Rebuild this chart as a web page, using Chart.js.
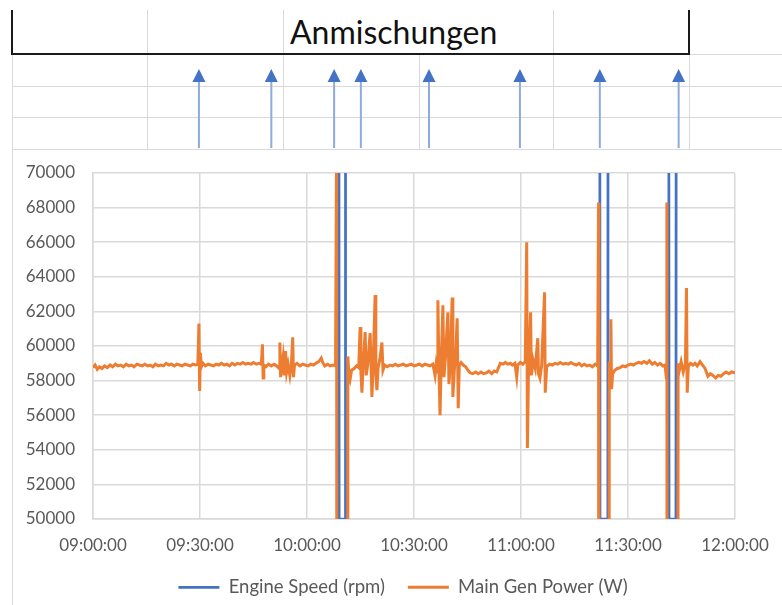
<!DOCTYPE html>
<html>
<head>
<meta charset="utf-8">
<script src="https://cdn.jsdelivr.net/npm/chart.js@4.4.0/dist/chart.umd.min.js"></script>
<style>
  body { margin: 0; background: #fff; }
  #page { position: relative; width: 782px; height: 605px; overflow: hidden; background: #fff; font-family: Lato, "Open Sans", sans-serif; }
  .ln { position: absolute; background: #d9d9d9; }
  .bk { position: absolute; background: #1a1a1a; }
  #head { position: absolute; left: 290px; top: 14px; font-size: 32px; line-height: 36px; color: #111; }
  #chart { position: absolute; left: 0; top: 0; }
</style>
</head>
<body>
<div id="page">
  <!-- spreadsheet cells above the chart -->
  <div class="ln" style="left:147px;top:10px;width:1px;height:139px"></div>
  <div class="ln" style="left:283px;top:10px;width:1px;height:139px"></div>
  <div class="ln" style="left:419px;top:55px;width:1px;height:94px"></div>
  <div class="ln" style="left:553px;top:10px;width:1px;height:139px"></div>
  <div class="ln" style="left:689px;top:55px;width:1px;height:94px"></div>
  <div class="ln" style="left:12px;top:55px;width:1px;height:550px"></div>
  <div class="ln" style="left:690px;top:54px;width:92px;height:1px"></div>
  <div class="ln" style="left:12px;top:86px;width:770px;height:1px"></div>
  <div class="ln" style="left:12px;top:117px;width:770px;height:1px"></div>
  <div class="ln" style="left:12px;top:149px;width:770px;height:1px"></div>
  <div class="bk" style="left:12px;top:53px;width:678px;height:2px"></div>
  <div class="bk" style="left:11px;top:10px;width:2px;height:45px"></div>
  <div class="bk" style="left:688px;top:10px;width:2px;height:45px"></div>
  <div id="head">Anmischungen</div>
  <canvas id="chart" width="782" height="605"></canvas>
</div>
<script>
// minutes after 09:00
var timeLabels = ["09:00:00", "09:30:00", "10:00:00", "10:30:00", "11:00:00", "11:30:00", "12:00:00"];
var mixTimes = [29.7, 50.0, 67.6, 75.1, 94.2, 119.7, 142.1, 164.2];

// Engine Speed (rpm), [minute, value]
var engineSpeed = [
  [0, 75000], [68.95, 75000], [69.0, 50000], [70.75, 50000], [70.8, 75000],
  [142.1, 75000], [142.15, 50000], [144.35, 50000], [144.4, 75000],
  [161.45, 75000], [161.5, 50000], [163.45, 50000], [163.5, 75000], [180, 75000]
];

// Main Gen Power (W), [minute, value]
var mainGenPower = [
  [0, 58750], [0.6, 58900], [1.2, 58650], [1.8, 58800], [2.5, 58700], [3.2, 58850], [4, 58750], [4.8, 58900],
  [5.5, 58800], [6.3, 58950], [7, 58850], [7.8, 58900], [8.5, 58800], [9.3, 58950], [10, 58850], [10.8, 58900],
  [11.5, 58800], [12.3, 58950], [13, 58900], [13.8, 58850], [14.5, 58950], [15.3, 58850], [16, 58900], [16.8, 58800],
  [17.5, 58950], [18.3, 58850], [19, 58900], [19.8, 58850], [20.5, 59000], [21.3, 58900], [22, 58950], [22.8, 58850],
  [23.5, 58950], [24.3, 58900], [25, 58850], [25.8, 58950], [26.5, 58900], [27.3, 58850], [28, 58950], [28.8, 58900],
  [29.4, 58950], [29.7, 61300], [29.9, 57400], [30.1, 59600], [30.4, 58800], [30.8, 59000], [31.5, 58850],
  [32.3, 58950], [33, 58900], [33.8, 58850], [34.5, 58950], [35.3, 58900], [36, 59000], [36.8, 58900], [37.5, 58950],
  [38.3, 58850], [39, 59000], [39.8, 58900], [40.5, 59000], [41.3, 58950], [42, 59050], [42.8, 58950], [43.5, 59000],
  [44.3, 58950], [45, 59050], [45.8, 58950], [46.5, 59000], [47.2, 58950],
  [47.5, 60100], [47.7, 58150], [47.9, 58900], [48.5, 58800], [49.2, 58950], [50, 58850], [50.8, 58950], [51.5, 58850],
  [52.2, 58700], [52.4, 60200], [52.6, 58200], [52.9, 58850], [53.3, 59400], [53.6, 58300], [54.0, 59700], [54.3, 58500],
  [54.7, 58950], [55.2, 58300], [55.6, 58900], [56.0, 60500], [56.2, 58200], [56.5, 58900], [57.2, 59000], [58, 58850],
  [58.8, 58950], [59.5, 58900], [60.3, 58850], [61, 58950], [61.8, 58900], [62.5, 59000], [63.3, 59100], [64, 59300],
  [64.4, 59050], [65, 58850], [65.8, 58950], [66.5, 58850], [67.3, 58900], [68.0, 58850],
  [68.3, 72000], [68.45, 0], [71.3, 0], [71.45, 59400], [71.7, 58500], [72.1, 58100], [72.5, 58600], [73.2, 58700],
  [73.9, 58850], [74.5, 58750], [74.9, 61100], [75.1, 58600], [75.4, 57300], [75.7, 58700], [76.3, 60800], [76.6, 58300],
  [77.0, 58900], [77.7, 60750], [78.0, 58600], [78.2, 57050], [78.5, 58600], [79.1, 62950], [79.3, 58400], [79.6, 57450],
  [79.9, 58700], [80.4, 59200], [81.0, 60200], [81.3, 58600], [81.8, 58900], [82.5, 58800], [83.3, 58900], [84, 58850],
  [84.8, 58950], [85.5, 58850], [86.3, 58900], [87, 58950], [87.8, 58850], [88.5, 58900], [89.3, 58950], [90, 58850],
  [90.8, 58900], [91.5, 58950], [92.3, 58850], [93, 58950], [93.8, 58900], [94.5, 58850], [95.3, 58950], [95.9, 58300],
  [96.2, 58900], [96.5, 58500], [96.7, 62650], [97.0, 58600], [97.3, 56000], [97.6, 58800], [98.1, 62350], [98.4, 58200],
  [98.8, 59300], [99.5, 61950], [99.8, 57800], [100.2, 59000], [100.7, 62800], [100.9, 57050], [101.3, 58600], [101.7, 59500],
  [102.1, 61600], [102.4, 56400], [102.7, 58900], [103.2, 59050], [103.8, 58900], [104.5, 58800], [105.1, 58600], [105.7, 58450],
  [106.5, 58400], [107.3, 58500], [108, 58400], [108.8, 58500], [109.5, 58400], [110.3, 58450], [111, 58550], [111.8, 58400],
  [112.5, 58550], [113.2, 58500], [113.7, 58750], [114.2, 59000], [115, 58950], [115.6, 59050], [116.3, 58950], [117, 59000],
  [117.6, 58900], [118.3, 59000], [118.8, 58200], [119.1, 58900], [119.8, 59050], [120.5, 58950], [121.2, 59100],
  [121.6, 66000], [121.8, 54100], [122.1, 58600], [122.7, 61950], [122.9, 58300], [123.4, 59200], [124.0, 58700], [124.7, 60450],
  [124.9, 58400], [125.3, 58150], [125.8, 58900], [126.6, 63100], [126.8, 57300], [127.2, 58800], [128, 58950], [128.8, 58900],
  [129.5, 59000], [130.3, 58950], [131, 59050], [131.8, 58950], [132.5, 59000], [133.3, 58950], [134, 59050], [134.8, 58950],
  [135.5, 58900], [136.3, 59000], [137, 58850], [137.8, 58950], [138.5, 58850], [139.3, 58900], [140, 58800], [140.8, 58950],
  [141.5, 58850], [141.75, 68300], [141.85, 0], [144.6, 0], [144.75, 59100], [145.0, 58300], [145.2, 61550], [145.4, 57500],
  [145.7, 58400], [146.3, 58600], [147, 58700], [147.8, 58750], [148.5, 58850], [149.3, 58800], [150, 58900], [150.8, 58950],
  [151.5, 58900], [152.3, 59000], [153, 59050], [153.8, 59000], [154.5, 59100], [155.3, 59000], [156, 59150], [156.8, 58950],
  [157.5, 59050], [158.3, 58900], [159, 59000], [159.8, 58850], [160.4, 58900], [160.75, 58150], [160.9, 68300], [161.0, 0],
  [163.9, 0], [164.05, 59000], [164.4, 58600], [164.9, 59100], [165.5, 58500], [166.1, 59000], [166.4, 63350], [166.6, 57300],
  [166.9, 58800], [167.5, 59000], [168.2, 58900], [168.8, 59000], [169.4, 58850], [170.2, 59100], [170.9, 58900], [171.6, 58700],
  [172.4, 58250], [173.1, 58400], [173.8, 58300], [174.6, 58150], [175.3, 58300], [176, 58250], [176.8, 58400], [177.5, 58500],
  [178.3, 58400], [179, 58500], [180, 58450]
];

var BLUE = "#4472C4";
var ORANGE = "#ED7D31";
var GRID = "#d9d9d9";
var TEXT = "#595959";

// plot area: left 93, right 735, top 173, bottom 519
var PAD_LEFT = 24;
var X_AXIS_H = 36;

Chart.defaults.font.family = "Lato, 'Open Sans', sans-serif";
Chart.defaults.font.size = 17;
Chart.defaults.color = TEXT;

// arrows for the mixing times, placed with the x scale
const mixArrows = {
  id: "mixArrows",
  afterDraw(chart) {
    const ctx = chart.ctx;
    const xs = chart.scales.x;
    ctx.save();
    mixTimes.forEach((t) => {
      const x = xs.getPixelForValue(t);
      ctx.strokeStyle = "#8faadc";
      ctx.lineWidth = 2;
      ctx.beginPath();
      ctx.moveTo(x, 148);
      ctx.lineTo(x, 80);
      ctx.stroke();
      ctx.fillStyle = BLUE;
      ctx.beginPath();
      ctx.moveTo(x, 69);
      ctx.lineTo(x - 6.5, 82);
      ctx.lineTo(x + 6.5, 82);
      ctx.closePath();
      ctx.fill();
    });
    ctx.restore();
  },
};

const ctx = document.getElementById("chart").getContext("2d");
new Chart(ctx, {
  type: "line",
  data: {
    datasets: [
      {
        label: "Engine Speed (rpm)",
        data: engineSpeed,
        borderColor: BLUE,
        backgroundColor: BLUE,
        borderWidth: 2.75,
        pointRadius: 0,
        pointStyle: "line",
        order: 1,
      },
      {
        label: "Main Gen Power (W)",
        data: mainGenPower,
        borderColor: ORANGE,
        backgroundColor: ORANGE,
        borderWidth: 3,
        pointRadius: 0,
        pointStyle: "line",
        order: 0,
      },
    ],
  },
  options: {
    responsive: false,
    animation: false,
    events: [],
    layout: { padding: { left: PAD_LEFT, right: 0, top: 173, bottom: 0 } },
    scales: {
      x: {
        type: "linear",
        min: 0,
        max: 180,
        afterFit: (s) => {
          s.height = X_AXIS_H;
          s.paddingRight = 47;
        },
        ticks: {
          stepSize: 30,
          padding: 16,
          maxRotation: 0,
          callback: (v) => timeLabels[Math.round(v / 30)],
        },
        grid: { color: GRID, lineWidth: 1.5, drawTicks: false },
        border: { color: GRID, width: 1.5 },
      },
      y: {
        min: 50000,
        max: 70000,
        afterFit: (s) => { s.width = 93 - PAD_LEFT; },
        ticks: {
          stepSize: 2000,
          padding: 18,
          callback: (v) => String(v),
        },
        grid: { color: GRID, lineWidth: 1.5, drawTicks: false },
        border: { color: GRID, width: 1.5 },
      },
    },
    plugins: {
      tooltip: { enabled: false },
      legend: {
        position: "bottom",
        maxHeight: 605 - 519 - X_AXIS_H,
        labels: {
          usePointStyle: true,
          pointStyleWidth: 41,
          padding: 23,
          font: { size: 18.5 },
          sort: (a, b) => a.datasetIndex - b.datasetIndex,
        },
      },
    },
  },
  plugins: [mixArrows],
});
</script>
</body>
</html>
